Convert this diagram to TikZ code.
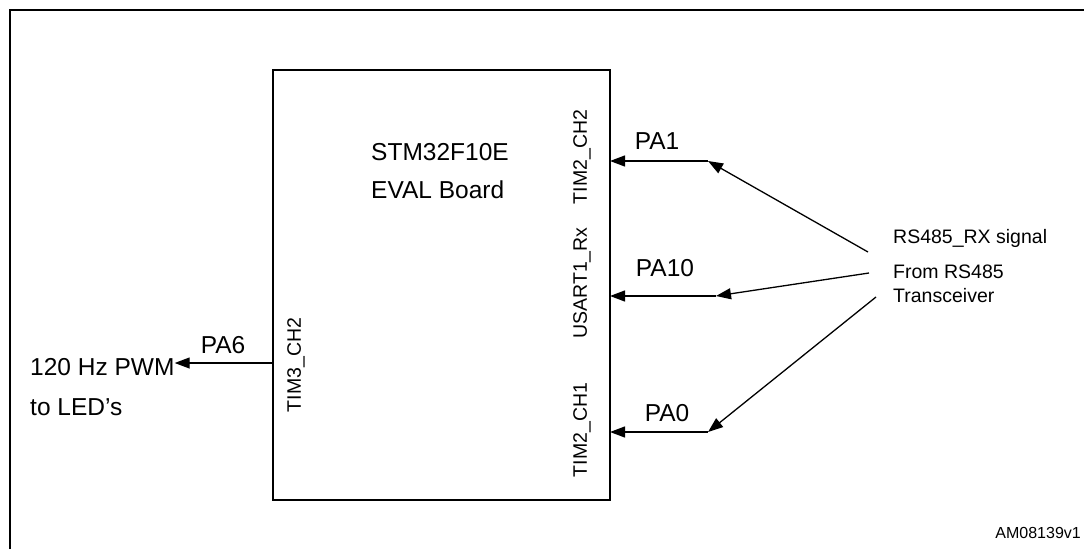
\documentclass[tikz,border=0pt]{standalone}
\usepackage{fontspec}
\setmainfont{Liberation Sans}
\usetikzlibrary{arrows.meta}
\begin{document}
\begin{tikzpicture}[x=1pt,y=-1pt,
  big/.style={inner sep=0pt,font=\fontsize{24.5}{28}\selectfont},
  small/.style={inner sep=0pt,font=\fontsize{19.5}{23}\selectfont},
  vlabel/.style={inner sep=0pt,rotate=90,font=\fontsize{19.5}{23}\selectfont},
  sig/.style={line width=1.3pt,-{Triangle[length=15pt,width=11pt]}},
  wire/.style={line width=1.2pt}]
\useasboundingbox (0,0) rectangle (1084,549);
% outer frame (open at right and bottom)
\draw[line width=2pt] (10,549) -- (10,10) -- (1084,10);
% board
\node[draw,line width=1.6pt,minimum width=337pt,minimum height=430pt,inner sep=0pt] (board) at (441.5,285) {};
\node[big,anchor=west] (t1) at (371,152) {STM32F10E};
\node[big,anchor=west] (t2) at (371,190) {EVAL Board};
\node[vlabel] (l1) at (582,157) {TIM2\_CH2};
\node[vlabel] (l2) at (582,283) {USART1\_Rx};
\node[vlabel] (l3) at (582,430) {TIM2\_CH1};
\node[vlabel] (l4) at (296,365) {TIM3\_CH2};
% pins
\coordinate (p1) at (610,161);
\coordinate (p2) at (610,296);
\coordinate (p3) at (610,432);
\coordinate (p6) at (273,363);
\coordinate (b1) at (708,161);
\coordinate (b2) at (716,296);
\coordinate (b3) at (708,432);
\coordinate (s1) at (868,252);
\coordinate (s2) at (869,273);
\coordinate (s3) at (876,297);
\node[big] (pa1) at (657,141) {PA1};
\node[big] (pa10) at (665,268) {PA10};
\node[big] (pa0) at (667,413) {PA0};
\node[big] (pa6) at (223,345) {PA6};
\draw[sig] (b1) -- (p1);
\draw[sig] (b2) -- (p2);
\draw[sig] (b3) -- (p3);
\draw[sig] (s1) -- (b1);
\draw[sig] (s2) -- (b2);
\draw[sig] (s3) -- (b3);
% right text
\node[small,anchor=west] (r1) at (893,238) {RS485\_RX signal};
\node[small,anchor=west] (r2) at (893,272) {From RS485};
\node[small,anchor=west] (r3) at (893,296) {Transceiver};
% left output
\node[big,anchor=west] (o1) at (30,367) {120 Hz PWM};
\node[big,anchor=west] (o2) at (30,407) {to LED’s};
\draw[sig] (p6) -- (p6 -| o1.east);
\node[inner sep=0pt,font=\fontsize{16}{19}\selectfont,anchor=east] (am) at (1081,533) {AM08139v1};
\end{tikzpicture}
\end{document}
